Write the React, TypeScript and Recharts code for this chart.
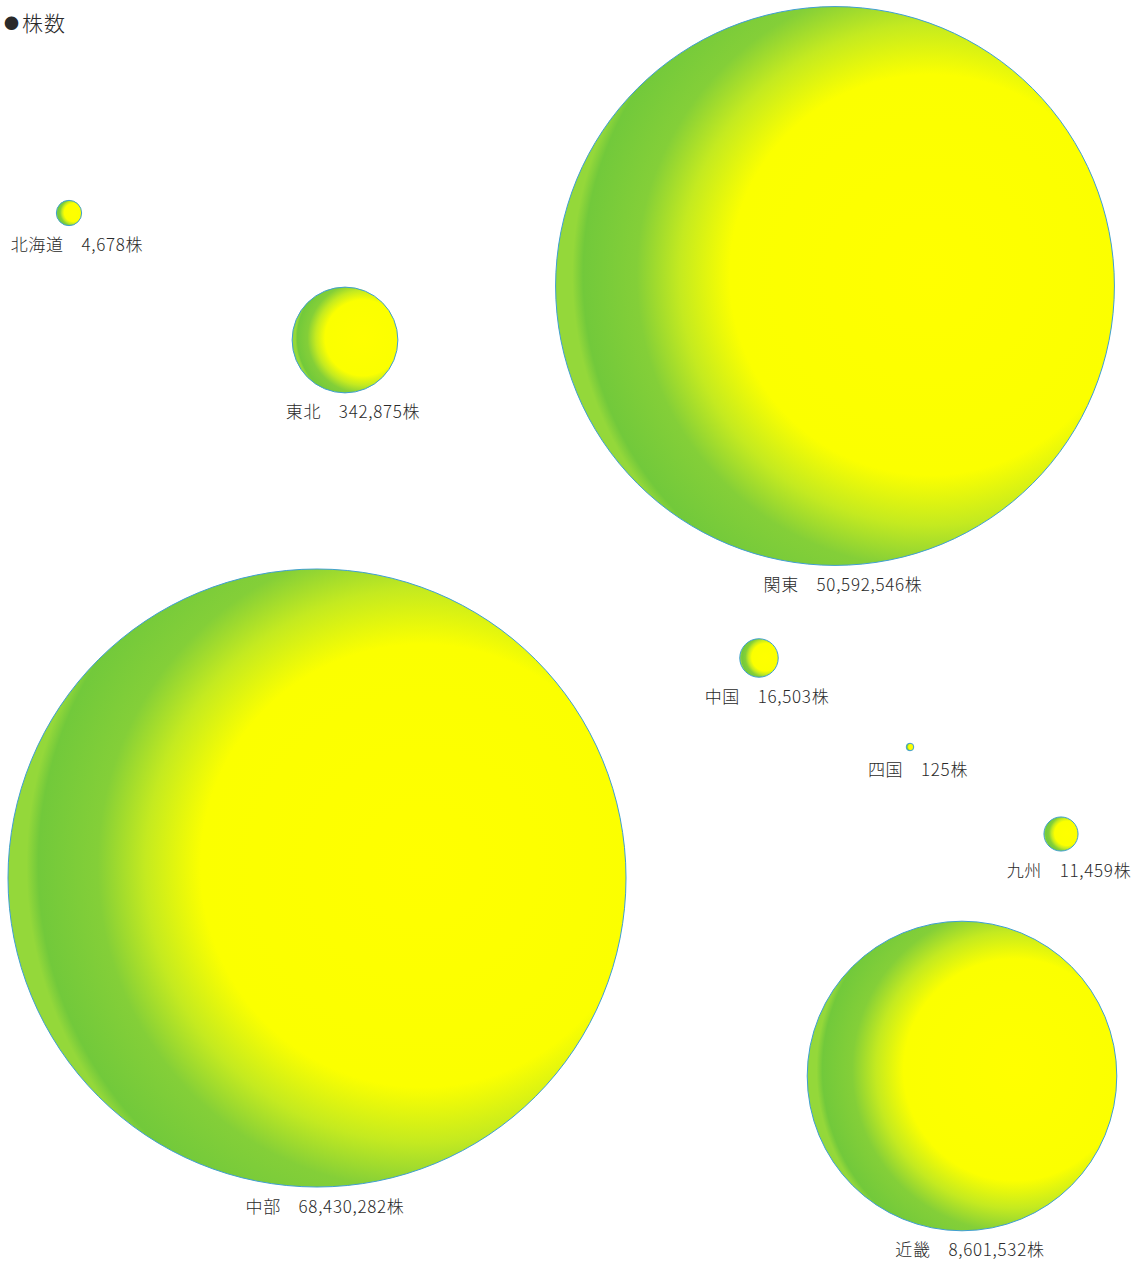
import { ScatterChart, Scatter, XAxis, YAxis } from 'recharts'

const regions = ['北海道', '東北', '関東', '中国', '四国', '九州', '中部', '近畿']
const stocks = [4678, 342875, 50592546, 16503, 125, 11459, 68430282, 8601532]
// where each bubble sits on the sheet (layout units, same as the page grid)
const layoutX = [69, 345, 835, 759, 910, 1061, 317, 962]
const layoutY = [213, 340, 286, 658, 747, 834, 878, 1076]

const W = 1147
const H = 1262
const MAX_R = 309

// bubble volume ~ value, so radius follows the cube root
const maxStock = Math.max(...stocks)
const radiusOf = (v: number) => MAX_R * Math.cbrt(v / maxStock)

const data = regions.map((name, i) => ({
  name,
  value: stocks[i],
  x: layoutX[i],
  y: layoutY[i],
}))

const font = '"Noto Sans CJK JP", "Noto Sans", sans-serif'

function Bubble(props: any) {
  const { cx, cy, payload } = props
  const r = radiusOf(payload.value)
  return (
    <g>
      <circle cx={cx} cy={cy} r={r} fill="url(#sphere)" stroke="#3f9fd2" strokeWidth={1} />
      <text
        x={cx + 8}
        y={cy + r + 18}
        textAnchor="middle"
        dominantBaseline="central"
        fontSize={17}
        fontWeight={300}
        letterSpacing={0.7}
        fill="#2a2a2a"
        fontFamily={font}
      >
        {payload.name + '　' + payload.value.toLocaleString('en-US') + '株'}
      </text>
    </g>
  )
}

export default function App() {
  return (
    <div style={{ position: 'absolute', left: 0, top: 0, width: W, height: H, background: '#fff' }}>
      <div
        style={{
          position: 'absolute',
          left: 4,
          top: 7,
          fontSize: 21,
          fontWeight: 300,
          letterSpacing: 1,
          color: '#2a2a2a',
          fontFamily: font,
        }}
      >
        <span style={{ fontSize: 15, position: 'relative', top: -2, marginRight: 2 }}>●</span>株数
      </div>
      <ScatterChart width={W} height={H} margin={{ top: 0, right: 0, bottom: 0, left: 0 }}>
        <defs>
          <radialGradient id="sphere" cx="0.67" cy="0.48" r="0.64">
            <stop offset="0" stopColor="#ffff00" />
            <stop offset="0.56" stopColor="#fbff00" />
            <stop offset="0.7" stopColor="#c4ea20" />
            <stop offset="0.82" stopColor="#84cf38" />
            <stop offset="0.97" stopColor="#72c93b" />
            <stop offset="1" stopColor="#94d83a" />
          </radialGradient>
        </defs>
        <XAxis type="number" dataKey="x" domain={[0, W]} hide />
        <YAxis type="number" dataKey="y" domain={[0, H]} reversed hide />
        <Scatter data={data} shape={Bubble} isAnimationActive={false} />
      </ScatterChart>
    </div>
  )
}
